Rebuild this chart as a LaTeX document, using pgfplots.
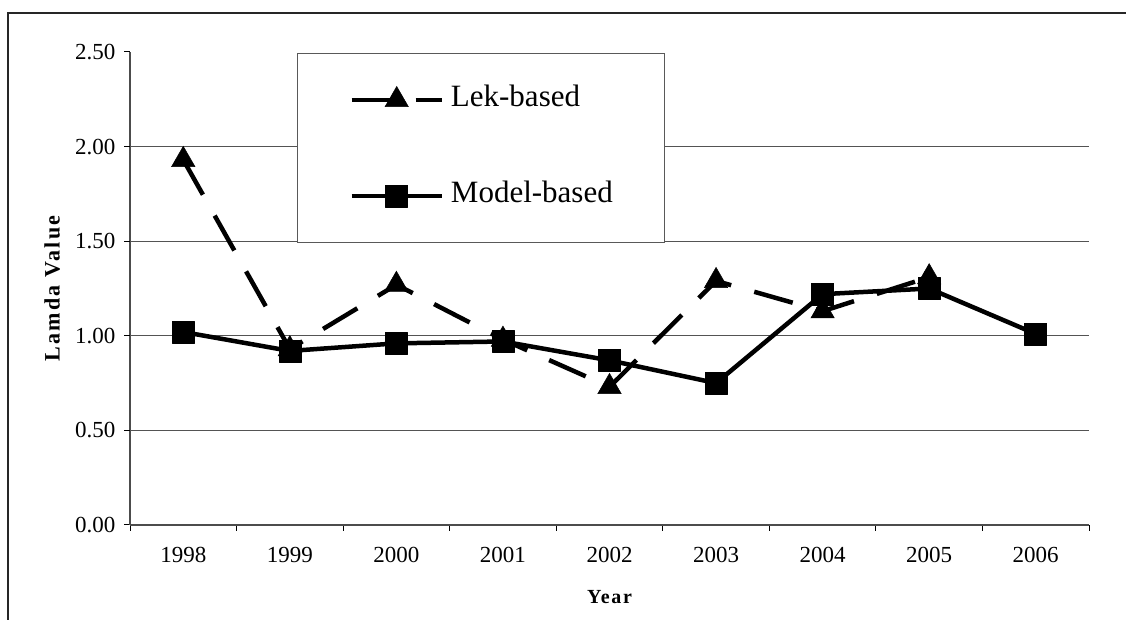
\documentclass[border=0pt]{standalone}
\usepackage{fontspec}
\setmainfont{Liberation Serif}
\newfontfamily\xlabelfont[LetterSpace=8]{Liberation Serif}
\newfontfamily\ylabelfont[LetterSpace=10]{Liberation Serif}
\usepackage{pgfplots}
\pgfplotsset{compat=1.18}
\begin{document}
\begin{tikzpicture}
\useasboundingbox (0pt,0pt) rectangle (1126pt,620pt);
\fill[white] (0pt,0pt) rectangle (1126pt,620pt);
\draw[line width=1.5pt, black!85] (8pt,0pt) -- (8pt,607pt) -- (1126pt,607pt);
\begin{axis}[
  at={(130pt,95pt)}, anchor=south west,
  scale only axis, width=959pt, height=473pt,
  xmin=-0.5, xmax=8.5, ymin=0, ymax=2.5,
  axis x line*=bottom, axis y line*=left,
  axis line style={gray!60!black, line width=1.2pt},
  tick align=outside, major tick length=6pt,
  tick style={black, line width=1pt},
  xtick={-0.5,0.5,...,8.5},
  x tick label as interval,
  xticklabels={1998,1999,2000,2001,2002,2003,2004,2005,2006},
  ytick={0,0.5,1,1.5,2,2.5},
  yticklabels={0.00,0.50,1.00,1.50,2.00,2.50},
  extra y ticks={0.5,1,1.5,2},
  extra y tick labels={},
  extra y tick style={grid=major, major tick length=6pt},
  grid style={gray!65!black, line width=1.2pt},
  tick label style={font=\fontsize{23}{25}\selectfont},
  yticklabel style={xshift=-5pt},
  xticklabel style={yshift=-13pt},
  xlabel={\xlabelfont\bfseries Year},
  ylabel={\ylabelfont\bfseries Lamda Value},
  xlabel style={at={(axis description cs:0.5,-0.152)}, anchor=center, font=\fontsize{20}{22}\selectfont},
  ylabel style={at={(axis description cs:-0.0813,0.5)}, anchor=center, rotate=0, font=\fontsize{22}{24}\selectfont},
  legend style={at={(axis description cs:0.1741,0.9979)}, anchor=north west,
    draw=gray!70!black, line width=1pt, fill=white,
    inner xsep=52pt, inner ysep=32.5pt,
    font=\fontsize{31}{33}\selectfont,
    nodes={inner sep=0pt, text height=21pt, text depth=7pt},
    row sep=68pt,
    /tikz/every odd column/.append style={column sep=7pt}},
  legend cell align=left,
  legend image code/.code={\draw[mark repeat=2,mark phase=2] plot coordinates {(0pt,0pt) (45pt,0pt) (90pt,0pt)};},
]
\addplot[black, line width=4.5pt, dash pattern=on 40pt off 24pt, line cap=butt,
  mark=triangle*, mark size=13.5pt, mark options={solid, fill=black, line width=0.5pt}]
  coordinates {(0,1.93) (1,0.93) (2,1.27) (3,0.98) (4,0.73) (5,1.29) (6,1.13) (7,1.31)};
\addlegendentry{Lek-based}
\addplot[black, line width=4.5pt, line join=round,
  mark=square*, mark size=11pt, mark options={solid, fill=black, line width=0.5pt}]
  coordinates {(0,1.02) (1,0.92) (2,0.96) (3,0.97) (4,0.87) (5,0.75) (6,1.22) (7,1.25) (8,1.01)};
\addlegendentry{Model-based}
\end{axis}
\end{tikzpicture}
\end{document}
